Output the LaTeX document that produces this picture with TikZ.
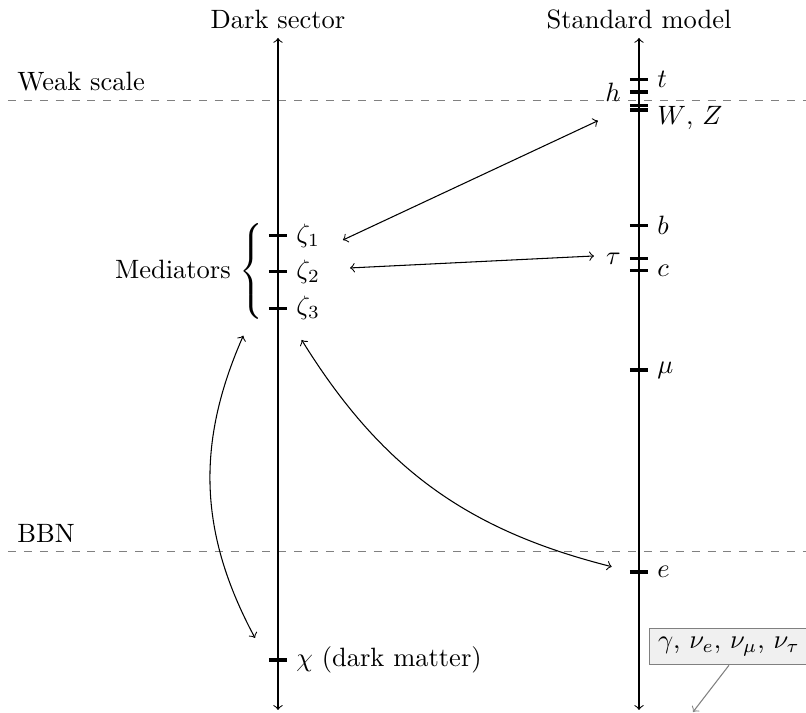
\documentclass[tikz,border=0pt]{standalone}
\usepackage{amsmath, amssymb}
\usetikzlibrary{calc}
\begin{document}
\begin{tikzpicture}[>=to, masstick/.style={very thick}, scaleline/.style={gray, dashed}, callout/.style={draw=gray, fill=gray!12}]
    \useasboundingbox (0,0) rectangle (10.69,9.456);
    \coordinate (DB) at (3.687,0.04);
    \coordinate (DT) at (3.687,8.952);
    \coordinate (SB) at (8.475,0.04);
    \coordinate (ST) at (8.475,8.952);

    \coordinate (t) at (8.475,8.404);
    \coordinate (h) at (8.475,8.236);
    \coordinate (W) at (8.475,8.060);
    \coordinate (Z) at (8.475,7.997);
    \coordinate (b) at (8.475,6.466);
    \coordinate (tau) at (8.475,6.025);
    \coordinate (c) at (8.475,5.866);
    \coordinate (mu) at (8.475,4.549);
    \coordinate (e) at (8.475,1.870);
    \coordinate (z1) at (3.687,6.330);
    \coordinate (z2) at (3.687,5.853);
    \coordinate (z3) at (3.687,5.367);
    \coordinate (chi) at (3.687,0.703);

    \coordinate (WL) at (0.106,8.121);
    \coordinate (WR) at (10.69,8.121);
    \coordinate (BL) at (0.106,2.139);
    \coordinate (BR) at (10.69,2.139);
    \draw[scaleline] (WL) -- (WR);
    \draw[scaleline] (BL) -- (BR);
    \node[above right] (weak) at (WL) {Weak scale};
    \node[above right] (bbn) at (BL) {BBN};

    \draw[<->] (DB) -- (DT);
    \draw[<->] (SB) -- (ST);
    \node[above] (dark) at (DT) {Dark sector};
    \node[above] (sm) at (ST) {Standard model};

    \foreach \p in {t,h,W,Z,b,tau,c,mu,e,z1,z2,z3,chi} {\draw[masstick] ([xshift=-1.2mm]\p) -- ([xshift=1.2mm]\p);}

    \node[right] (tl) at ([xshift=1.2mm]t) {\(t\)};
    \node[left] (hl) at ([xshift=-1.2mm]h) {\(h\)};
    \node[right] (wzl) at ([xshift=1.2mm, yshift=-1mm]Z) {\(W\), \(Z\)};
    \node[right] (bl) at ([xshift=1.2mm]b) {\(b\)};
    \node[left] (taul) at ([xshift=-1.2mm]tau) {\(\tau\)};
    \node[right] (cl) at ([xshift=1.2mm]c) {\(c\)};
    \node[right] (mul) at ([xshift=1.2mm]mu) {\(\mu\)};
    \node[right] (el) at ([xshift=1.2mm]e) {\(e\)};
    \node[right] (z1l) at ([xshift=1.2mm]z1) {\(\zeta_1\)};
    \node[right] (z2l) at ([xshift=1.2mm]z2) {\(\zeta_2\)};
    \node[right] (z3l) at ([xshift=1.2mm]z3) {\(\zeta_3\)};
    \node[right] (chil) at ([xshift=1.2mm]chi) {\(\chi\) (dark matter)};
    \node[left] (med) at ([xshift=-0.3mm]z2) {Mediators \(\left\{\rule[-15pt]{0pt}{35pt}\right.\)};

    \coordinate (a1s) at ($(z1)+(0.862,-0.057)$);
    \coordinate (a1e) at ($(Z)+(-0.544,-0.142)$);
    \coordinate (a2s) at ($(z2)+(0.955,0.049)$);
    \coordinate (a2e) at ($(tau)+(-0.597,0.036)$);
    \coordinate (a3s) at ($(z3)+(-0.460,-0.363)$);
    \coordinate (a3e) at ($(chi)+(-0.305,0.292)$);
    \coordinate (a4s) at ($(z3)+(0.314,-0.420)$);
    \coordinate (a4e) at ($(e)+(-0.362,0.070)$);
    \draw[<->] (a1s) -- (a1e);
    \draw[<->] (a2s) -- (a2e);
    \draw[<->] (a3s) to[bend right=26] (a3e);
    \draw[<->] (a4s) to[bend right=22] (a4e);

    \node[callout] (nus) at (9.668,0.882) {\(\gamma\), \(\nu_e\), \(\nu_\mu\), \(\nu_\tau\)};
    \coordinate (nuend) at (9.191,0.013);
    \draw[->, gray] (nus.south) -- (nuend);
\end{tikzpicture}
\end{document}
